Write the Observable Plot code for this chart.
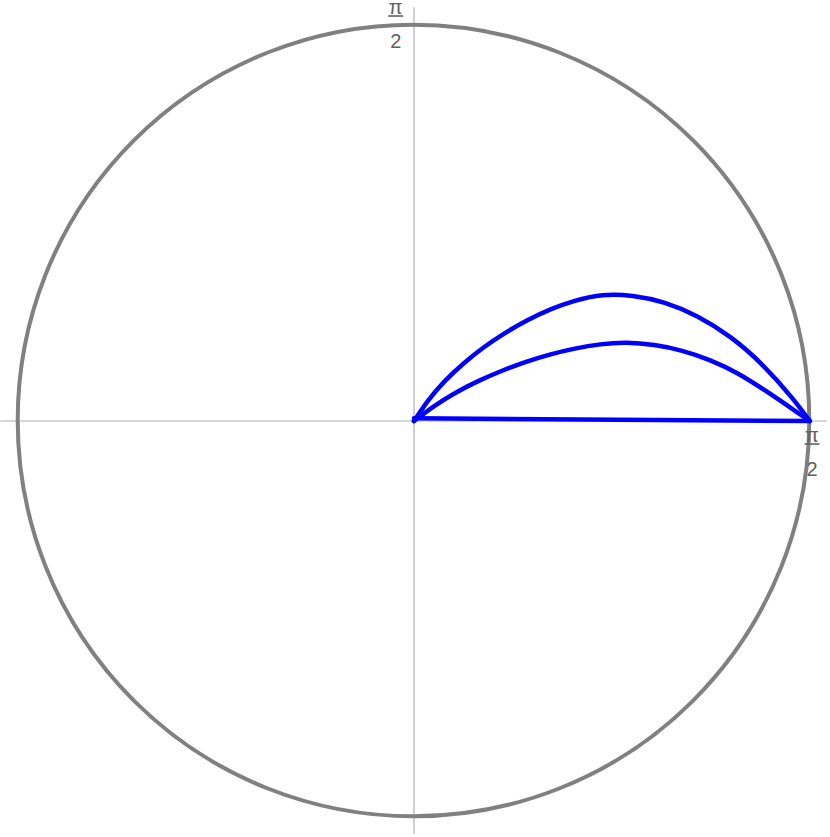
<!DOCTYPE html>
<html>
<head>
<meta charset="utf-8">
<script src="https://cdn.jsdelivr.net/npm/d3@7"></script>
<script src="https://cdn.jsdelivr.net/npm/@observablehq/plot@0.6"></script>
<style>
  html, body { margin: 0; padding: 0; background: #fff; }
  #chart svg { display: block; }
</style>
</head>
<body>
<div id="chart"></div>
<script>
// ---- data: polar curves (radius r, angle theta in radians) ----
const rMax = Math.PI / 2;           // outer circle radius and tick value
const tickLabelNum = "π";
const tickLabelDen = "2";

const upperR     = [0, 0.1, 0.2, 0.3, 0.4, 0.5, 0.6, 0.7, 0.8, 0.9, 1.0, 1.1, 1.2, 1.3, 1.4, 1.5, 1.5708];
const upperTheta = [1.01, 0.965, 0.912, 0.860, 0.813, 0.769, 0.727, 0.685, 0.640, 0.588, 0.519, 0.440, 0.352, 0.258, 0.160, 0.064, 0];

const lowerR     = [0, 0.1, 0.2, 0.3, 0.4, 0.5, 0.6, 0.7, 0.8, 0.9, 1.0, 1.1, 1.2, 1.3, 1.4, 1.5, 1.5708];
const lowerTheta = [0.68, 0.635, 0.596, 0.556, 0.519, 0.487, 0.455, 0.423, 0.390, 0.352, 0.306, 0.256, 0.202, 0.145, 0.086, 0.033, 0];

// nearly horizontal segment (Cartesian x, y)
const chordX = [0, 1.5695];
const chordY = [0.011, 0];

const axisExtent = 1.64;

// ---- build tables ----
const polarPts = (rs, ts) => rs.map((r, i) => ({x: r * Math.cos(ts[i]), y: r * Math.sin(ts[i])}));
const upper = polarPts(upperR, upperTheta);
const lower = polarPts(lowerR, lowerTheta);
const chord = chordX.map((x, i) => ({x, y: chordY[i]}));

const W = 830, H = 837;
const pxPerUnit = 251.97;
const cx = 413.5, cy = 420.5;

const blue = "#0000ff";
const labelColor = "#606060";

// outer circle drawn through the plot's scales
function circleMark(index, {x, y}) {
  const g = d3.create("svg:g");
  const r = x(rMax) - x(0);
  g.append("circle")
    .attr("cx", x(0)).attr("cy", y(0)).attr("r", r)
    .attr("fill", "none").attr("stroke", "#808080").attr("stroke-width", 4);
  return g.node();
}

// fraction tick labels π/2
function fractionMark(index, {x, y}) {
  const g = d3.create("svg:g")
    .attr("font-family", "Liberation Sans, Arial, sans-serif")
    .attr("font-size", 20)
    .attr("fill", labelColor)
    .attr("text-anchor", "middle");
  const drawFrac = (px, barY) => {
    g.append("text").attr("x", px).attr("y", barY - 2.5).text(tickLabelNum);
    g.append("line").attr("x1", px - 7.5).attr("x2", px + 7.5)
      .attr("y1", barY).attr("y2", barY).attr("stroke", labelColor).attr("stroke-width", 1.6);
    g.append("text").attr("x", px).attr("y", barY + 31.5).text(tickLabelDen);
  };
  // top label: left of vertical axis, straddling the circle top
  drawFrac(x(0) - 17.8, y(rMax) - 8.7);
  // right label: below horizontal axis at the circle's right
  drawFrac(x(rMax) + 2.7, y(0) + 23.5);
  return g.node();
}

const plot = Plot.plot({
  width: W,
  height: H,
  margin: 0,
  x: {domain: [-cx / pxPerUnit, (W - cx) / pxPerUnit], axis: null},
  y: {domain: [-(H - cy) / pxPerUnit, cy / pxPerUnit], axis: null},
  marks: [
    Plot.ruleY([0], {x1: -axisExtent, x2: axisExtent, stroke: "#b0b0b0", strokeWidth: 1.2}),
    Plot.ruleX([0], {y1: -axisExtent, y2: axisExtent, stroke: "#b0b0b0", strokeWidth: 1.2}),
    circleMark,
    Plot.line(chord, {x: "x", y: "y", stroke: blue, strokeWidth: 4.5, strokeLinecap: "round"}),
    Plot.line(lower, {x: "x", y: "y", stroke: blue, strokeWidth: 4.5, curve: "natural", strokeLinejoin: "round"}),
    Plot.line(upper, {x: "x", y: "y", stroke: blue, strokeWidth: 4.5, curve: "natural", strokeLinejoin: "round"}),
    fractionMark
  ]
});

document.getElementById("chart").appendChild(plot);
</script>
</body>
</html>
